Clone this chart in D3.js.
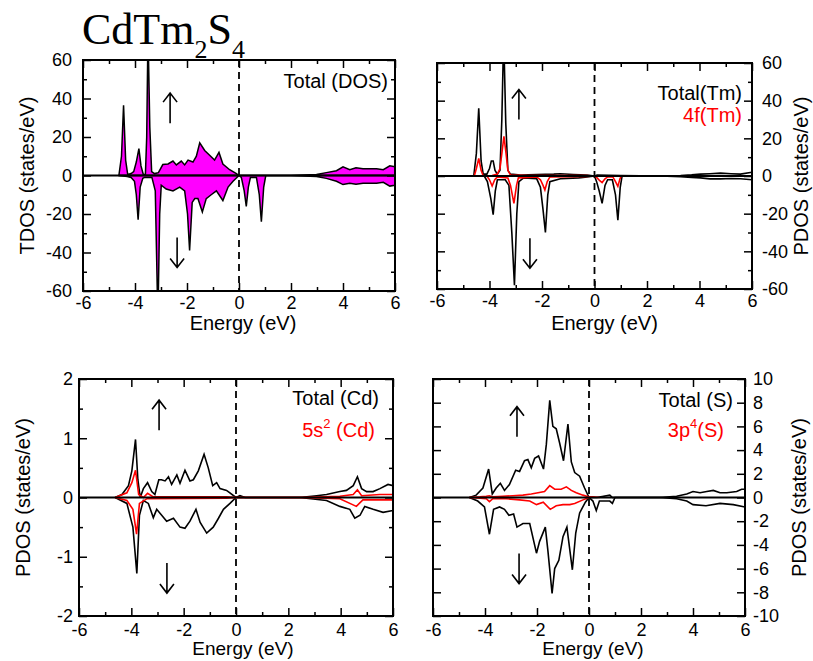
<!doctype html>
<html>
<head>
<script src="https://cdn.jsdelivr.net/npm/d3@7/dist/d3.min.js"></script>
<style>
  body { margin: 0; background: #fff; }
  svg text { font-family: "Liberation Sans", Arial, sans-serif; }
  svg text.title { font-family: "Liberation Serif", "Times New Roman", serif; }
</style>
</head>
<body>
<svg id="chart" width="813" height="661"></svg>
<script>
// ---- data: [energy (eV), DOS] ----
var tdosUp = [[-4.62,0],[-4.52,10],[-4.44,36.5],[-4.36,8],[-4.28,0.5],[-4.15,1],[-4.05,2],[-3.95,7],[-3.85,14],[-3.77,5],[-3.68,0.5],[-3.6,0.5],[-3.55,20],[-3.5,75],[-3.43,25],[-3.36,2],[-3.25,1],[-3.1,1.5],[-2.93,5.7],[-2.73,6],[-2.54,7.5],[-2.41,5.5],[-2.22,7.5],[-2.09,5.5],[-1.96,8],[-1.77,7],[-1.64,10],[-1.51,17],[-1.32,13],[-1.13,10.5],[-0.94,8],[-0.77,12],[-0.62,6],[-0.36,3],[-0.1,1],[0,0],[2.0,0],[2.98,0.5],[3.36,1.5],[3.75,2.5],[4.0,4.5],[4.26,3],[4.5,4],[4.77,3.5],[5.03,3.5],[5.29,3.5],[5.55,3],[5.8,5],[6.0,4.5]];
var tdosDown = [[-4.62,0],[-4.3,-0.5],[-4.15,-1],[-4.02,-3],[-3.95,-10],[-3.88,-23],[-3.8,-6],[-3.7,-1.5],[-3.63,-1],[-3.35,-1],[-3.22,-8],[-3.12,-75],[-3.05,-20],[-2.99,-5],[-2.8,-7],[-2.54,-8],[-2.28,-6],[-2.09,-8],[-1.98,-20],[-1.9,-39],[-1.8,-14],[-1.7,-12],[-1.58,-12],[-1.41,-19],[-1.26,-12],[-1.07,-10],[-0.87,-8],[-0.62,-13],[-0.42,-6],[-0.23,-3],[0,0],[0.09,-1],[0.2,-8],[0.28,-16],[0.36,-6],[0.44,-1],[0.67,-1],[0.78,-10],[0.86,-24],[0.95,-6],[1.03,0],[2.0,0],[2.98,-0.5],[3.36,-1.5],[3.75,-3],[4.0,-4.7],[4.26,-4],[4.5,-4.5],[4.77,-4],[5.03,-4],[5.29,-4],[5.55,-3.5],[5.8,-5.5],[6.0,-5]];

var tmTotalUp = [[-4.6,0],[-4.5,12],[-4.41,36],[-4.32,8],[-4.24,1],[-4.1,1],[-4.0,4],[-3.93,8],[-3.86,8],[-3.79,3],[-3.7,1],[-3.6,3],[-3.53,30],[-3.46,75],[-3.38,28],[-3.3,3],[-3.2,1],[-2.82,0.5],[-2.2,0.8],[-1.55,1],[-1.3,1.2],[-0.8,0.8],[-0.28,0.5],[0,0],[0.1,0.5],[1.0,0.2],[2.5,0],[3.28,0.3],[3.7,0.6],[4.04,1],[4.4,1.2],[4.8,1.5],[5.2,1.2],[5.56,1],[6,2]];
var tmTotalDown = [[-4.2,0],[-4.08,-3],[-3.95,-12],[-3.86,-20.5],[-3.78,-8],[-3.7,-2],[-3.4,-2],[-3.26,-5],[-3.15,-30],[-3.05,-58],[-2.96,-20],[-2.88,-3],[-2.7,-1],[-2.2,-1.5],[-2.06,-6],[-1.96,-18],[-1.87,-30],[-1.78,-10],[-1.7,-3],[-1.3,-1.5],[-0.6,-1],[-0.28,-0.5],[0,0],[0.08,-3],[0.18,-8],[0.29,-14.5],[0.4,-5],[0.5,-2],[0.68,-2],[0.8,-10],[0.89,-23.5],[0.98,-6],[1.05,0],[2.5,0],[3.28,-0.4],[3.7,-0.8],[4.04,-1],[4.4,-1.5],[4.8,-1.5],[5.2,-1.3],[5.56,-1.5],[6,-2]];
var tm4fUp = [[-4.58,0],[-4.5,4],[-4.41,9.3],[-4.32,3],[-4.24,0],[-3.9,0.3],[-3.7,1],[-3.6,4],[-3.52,13],[-3.45,21],[-3.37,12],[-3.3,3],[-3.2,0.5],[-2.5,0.3],[-1.5,0.3],[-0.3,0.2],[0,0]];
var tm4fDown = [[-4.1,0],[-4.0,-2],[-3.9,-5.3],[-3.8,-2],[-3.7,-0.5],[-3.3,-1],[-3.2,-5],[-3.07,-14.5],[-2.97,-5],[-2.9,-1],[-2.2,-0.5],[-2.06,-2],[-1.96,-5],[-1.89,-7.4],[-1.8,-3],[-1.7,-0.5],[-0.3,-0.3],[0,0],[0.1,-1],[0.2,-2.5],[0.29,-3.5],[0.4,-1.5],[0.5,-0.5],[0.7,-0.5],[0.8,-3],[0.89,-5.5],[0.97,-1.5],[1.02,0]];

var cdTotalUp = [[-4.62,0],[-4.36,0.05],[-4.11,0.2],[-3.98,0.45],[-3.84,0.98],[-3.75,0.3],[-3.66,0],[-3.54,0.15],[-3.38,0.25],[-3.22,0.1],[-3.1,0.05],[-2.95,0.3],[-2.85,0.3],[-2.71,0.28],[-2.58,0.35],[-2.46,0.22],[-2.26,0.38],[-2.14,0.24],[-1.95,0.46],[-1.76,0.28],[-1.63,0.3],[-1.44,0.45],[-1.22,0.73],[-1.06,0.5],[-0.89,0.2],[-0.74,0.25],[-0.61,0.15],[-0.36,0.12],[0,0],[0.15,0.03],[0.35,0],[2.44,0],[3.08,0.03],[3.46,0.05],[3.97,0.1],[4.22,0.12],[4.48,0.2],[4.64,0.35],[4.8,0.15],[4.99,0.1],[5.24,0.1],[5.5,0.15],[5.81,0.22],[6,0.2]];
var cdTotalDown = [[-4.62,0],[-4.17,-0.1],[-3.94,-0.5],[-3.79,-1.28],[-3.69,-0.3],[-3.54,-0.05],[-3.35,-0.1],[-3.16,-0.34],[-3.03,-0.2],[-2.84,-0.3],[-2.65,-0.4],[-2.39,-0.35],[-2.14,-0.5],[-1.95,-0.52],[-1.76,-0.4],[-1.53,-0.2],[-1.37,-0.42],[-1.12,-0.6],[-0.87,-0.5],[-0.67,-0.35],[-0.48,-0.2],[-0.23,-0.1],[0,0],[2.44,0],[3.46,-0.05],[3.97,-0.15],[4.35,-0.2],[4.54,-0.35],[4.74,-0.3],[4.92,-0.15],[5.24,-0.2],[5.62,-0.25],[6,-0.22]];
var cd5sUp = [[-4.62,0],[-4.17,0.08],[-3.98,0.25],[-3.84,0.46],[-3.72,0.05],[-3.54,0],[-3.38,0.07],[-3.16,0.01],[-0.36,0.01],[0,0],[2.44,0],[3.97,0.02],[4.48,0.05],[4.64,0.13],[4.8,0.03],[5.5,0.05],[6,0.05]];
var cd5sDown = [[-4.62,0],[-4.17,-0.05],[-3.94,-0.2],[-3.8,-0.62],[-3.69,-0.1],[-3.4,-0.02],[-0.36,-0.01],[0,0],[2.44,0],[3.97,-0.02],[4.6,-0.15],[4.85,-0.04],[6,-0.04]];

var sTotalUp = [[-4.6,0],[-4.34,0.2],[-4.08,0.8],[-3.86,2.4],[-3.72,0.3],[-3.57,0.8],[-3.41,1.2],[-3.25,0.6],[-3.06,1.1],[-2.82,2.3],[-2.67,2.2],[-2.48,3.1],[-2.35,3.2],[-2.22,2.5],[-2.09,3.3],[-1.94,3.5],[-1.75,2.4],[-1.64,4.5],[-1.51,8.2],[-1.39,6.0],[-1.26,5.8],[-1.13,4.6],[-0.98,3.1],[-0.81,6.2],[-0.68,3.0],[-0.55,2.1],[-0.36,1.8],[-0.17,0.8],[0,0],[0.3,0],[0.8,0.2],[0.9,0],[2.72,0],[3.37,0.1],[3.76,0.3],[4.0,0.5],[4.27,0.4],[4.53,0.5],[4.78,0.6],[5.04,0.4],[5.3,0.4],[5.68,0.5],[5.87,0.7],[6,0.7]];
var sTotalDown = [[-4.6,0],[-4.28,-0.3],[-4.02,-0.8],[-3.83,-3.1],[-3.67,-1.0],[-3.44,-0.8],[-3.25,-1.0],[-3.08,-1.5],[-2.9,-1.4],[-2.77,-2.5],[-2.54,-2.2],[-2.28,-2.2],[-2.02,-4.7],[-1.9,-3.7],[-1.68,-2.5],[-1.58,-4.5],[-1.42,-8.1],[-1.32,-6.0],[-1.16,-5.3],[-1.0,-3.3],[-0.85,-2.5],[-0.64,-6.1],[-0.51,-3.0],[-0.36,-1.3],[-0.14,-0.4],[0,0],[0.15,-0.3],[0.28,-1.1],[0.4,-0.3],[0.8,-0.3],[0.9,-0.5],[1.0,0],[2.72,0],[3.37,-0.1],[3.76,-0.3],[4.0,-0.6],[4.5,-0.7],[5.04,-0.5],[5.55,-0.6],[6,-0.8]];
var s3pUp = [[-4.6,0],[-4.2,0.05],[-3.95,0.1],[-3.83,0.15],[-3.7,0.05],[-3.32,0.1],[-2.93,0.15],[-2.54,0.2],[-2.22,0.3],[-1.96,0.4],[-1.71,0.5],[-1.51,1.0],[-1.32,0.7],[-1.07,0.7],[-0.87,0.9],[-0.68,0.6],[-0.49,0.4],[-0.23,0.2],[0,0.05],[0.15,0.05],[0.41,0]];
var s3pDown = [[-4.6,0],[-4.2,-0.05],[-3.95,-0.1],[-3.83,-0.35],[-3.7,-0.1],[-3.19,-0.1],[-2.67,-0.2],[-2.28,-0.3],[-2.02,-0.6],[-1.76,-0.4],[-1.49,-1.0],[-1.26,-0.7],[-1.0,-0.6],[-0.74,-0.6],[-0.55,-0.5],[-0.23,-0.2],[0,0]];

// tick values
var energyTicks = [-6,-4,-2,0,2,4,6];
var energyMinor = [-5,-3,-1,1,3,5];
var bigTicks = [-60,-40,-20,0,20,40,60];
var bigMinor = [-50,-30,-10,10,30,50];
var cdTicks = [-2,-1,0,1,2];
var cdMinor = [-1.5,-0.5,0.5,1.5];
var sTicks = [-10,-8,-6,-4,-2,0,2,4,6,8,10];

var svg = d3.select("#chart");

var panels = [
  { box:[83,60,395,291], ydom:[-60,60], yt:bigTicks, ym:bigMinor, side:"left", ypad:11, xpad:5,
    ytitle:"TDOS (states/eV)", ytx:34, xtitleY:330, xtitleDx:4, xfs:20,
    fill:[tdosUp, tdosDown], lines:[],
    legend:[["Total (DOS)","#000",-7,28]],
    up:[-2.65,35], down:[-2.38,-40] },
  { box:[437,63,752,289], ydom:[-60,60], yt:bigTicks, ym:bigMinor, side:"right", ypad:10, xpad:5,
    ytitle:"PDOS (states/eV)", ytx:808, xtitleY:330, xtitleDx:10, xfs:20,
    fill:[], lines:[[tmTotalUp,"#000"],[tmTotalDown,"#000"],[tm4fUp,"#f00"],[tm4fDown,"#f00"]],
    legend:[["Total(Tm)","#000",-10,37],["4f(Tm)","#f00",-10,59]],
    up:[-2.88,38], down:[-2.46,-41] },
  { box:[79,379,393,616], ydom:[-2,2], yt:cdTicks, ym:cdMinor, side:"left", ypad:6, xpad:7,
    ytitle:"PDOS (states/eV)", ytx:30, xtitleY:655, xtitleDx:7, xfs:19,
    fill:[], lines:[[cdTotalUp,"#000"],[cdTotalDown,"#000"],[cd5sUp,"#f00"],[cd5sDown,"#f00"]],
    legend:[["Total (Cd)","#000",-14,26],["5s|2| (Cd)","#f00",-18,58]],
    up:[-2.94,1.39], down:[-2.64,-1.36] },
  { box:[433,379,745,616], ydom:[-10,10], yt:sTicks, ym:[], side:"right", ypad:8, xpad:7,
    ytitle:"PDOS (states/eV)", ytx:806, xtitleY:655, xtitleDx:4, xfs:19,
    fill:[], lines:[[sTotalUp,"#000"],[sTotalDown,"#000"],[s3pUp,"#f00"],[s3pDown,"#f00"]],
    legend:[["Total (S)","#000",-12,28],["3p|4|(S)","#f00",-21,58]],
    up:[-2.77,6.4], down:[-2.69,-6] }
];

var fmt = function(d){ return String(d); };

// thin spin arrow: shaft plus open head, dir = -1 up, +1 down
function spinArrow(cx, cy, dir){
  var h = 15, tipY = cy + dir*h;
  svg.append("path")
    .attr("d","M"+cx+","+(cy - dir*h)+"L"+cx+","+tipY+
      "M"+(cx-7)+","+(tipY - dir*9)+"L"+cx+","+tipY+"L"+(cx+7)+","+(tipY - dir*9))
    .attr("fill","none").attr("stroke","#000").attr("stroke-width",1.6);
}

panels.forEach(function(p, i){
  var x0 = p.box[0], y0 = p.box[1], x1 = p.box[2], y1 = p.box[3];
  var x = d3.scaleLinear().domain([-6,6]).range([x0,x1]);
  var y = d3.scaleLinear().domain(p.ydom).range([y1,y0]);

  svg.append("clipPath").attr("id","clip"+i)
    .append("rect").attr("x",x0).attr("y",y0).attr("width",x1-x0).attr("height",y1-y0);
  var g = svg.append("g").attr("clip-path","url(#clip"+i+")");

  var area = d3.area().x(function(d){return x(d[0]);}).y0(y(0)).y1(function(d){return y(d[1]);});
  var line = d3.line().x(function(d){return x(d[0]);}).y(function(d){return y(d[1]);});

  p.fill.forEach(function(s){
    g.append("path").datum(s).attr("d",area)
      .attr("fill","#ff00ff").attr("stroke","#000").attr("stroke-width",1.5);
  });
  p.lines.forEach(function(s){
    g.append("path").datum(s[0]).attr("d",line)
      .attr("fill","none").attr("stroke",s[1]).attr("stroke-width",1.6);
  });

  // zero line and Fermi level
  g.append("line").attr("x1",x0).attr("x2",x1).attr("y1",y(0)).attr("y2",y(0))
    .attr("stroke","#000").attr("stroke-width",1.8);
  g.append("line").attr("x1",x(0)).attr("x2",x(0)).attr("y1",y0).attr("y2",y1)
    .attr("stroke","#000").attr("stroke-width",1.8).attr("stroke-dasharray","7,5");

  // axes, ticks pointing inwards
  function ax(gen, tv, size, labels, pad, tx, ty){
    var a = gen.tickValues(tv).tickSize(size).tickPadding(pad)
      .tickFormat(labels ? fmt : "");
    var gg = svg.append("g").attr("transform","translate("+tx+","+ty+")").call(a);
    gg.select(".domain").remove();
    gg.selectAll("line").attr("stroke","#000").attr("stroke-width",1.5);
    gg.selectAll("text").attr("font-size",18).attr("fill","#000")
      .attr("font-family","Liberation Sans, Arial, sans-serif");
    return gg;
  }
  ax(d3.axisBottom(x), energyTicks, -8, true, p.xpad, 0, y1);
  ax(d3.axisBottom(x), energyMinor, -4, false, 0, 0, y1);
  ax(d3.axisTop(x), energyTicks, -8, false, 0, 0, y0);
  ax(d3.axisTop(x), energyMinor, -4, false, 0, 0, y0);
  ax(d3.axisLeft(y), p.yt, -8, p.side=="left", p.ypad, x0, 0);
  ax(d3.axisRight(y), p.yt, -8, p.side=="right", p.ypad, x1, 0);
  if (p.ym.length) {
    ax(d3.axisLeft(y), p.ym, -4, false, 0, x0, 0);
    ax(d3.axisRight(y), p.ym, -4, false, 0, x1, 0);
  }

  svg.append("rect").attr("x",x0).attr("y",y0).attr("width",x1-x0).attr("height",y1-y0)
    .attr("fill","none").attr("stroke","#000").attr("stroke-width",2);

  // axis titles
  svg.append("text").attr("x",(x0+x1)/2+p.xtitleDx).attr("y",p.xtitleY)
    .attr("text-anchor","middle").attr("font-size",p.xfs).text("Energy (eV)");
  svg.append("text").attr("transform","translate("+p.ytx+","+((y0+y1)/2)+") rotate(-90)")
    .attr("text-anchor","middle").attr("font-size",20).text(p.ytitle);

  // legend text, "|n|" marks a superscript
  p.legend.forEach(function(l){
    var t = svg.append("text").attr("x",x1+l[2]).attr("y",y0+l[3])
      .attr("text-anchor","end").attr("font-size",20).attr("fill",l[1]);
    var parts = l[0].split("|");
    t.append("tspan").text(parts[0]);
    if (parts.length > 1) {
      t.append("tspan").attr("font-size",13).attr("dy",-9).text(parts[1]);
      t.append("tspan").attr("dy",9).text(parts[2]);
    }
  });

  // spin arrows
  spinArrow(x(p.up[0]), y(p.up[1]), -1);
  spinArrow(x(p.down[0]), y(p.down[1]), 1);
});

// compound name
var title = svg.append("text").attr("class","title").attr("x",82).attr("y",44).attr("font-size",44);
title.append("tspan").text("CdTm");
title.append("tspan").attr("font-size",26).attr("dy",14).text("2");
title.append("tspan").attr("dy",-14).text("S");
title.append("tspan").attr("font-size",26).attr("dy",14).text("4");
</script>
</body>
</html>
